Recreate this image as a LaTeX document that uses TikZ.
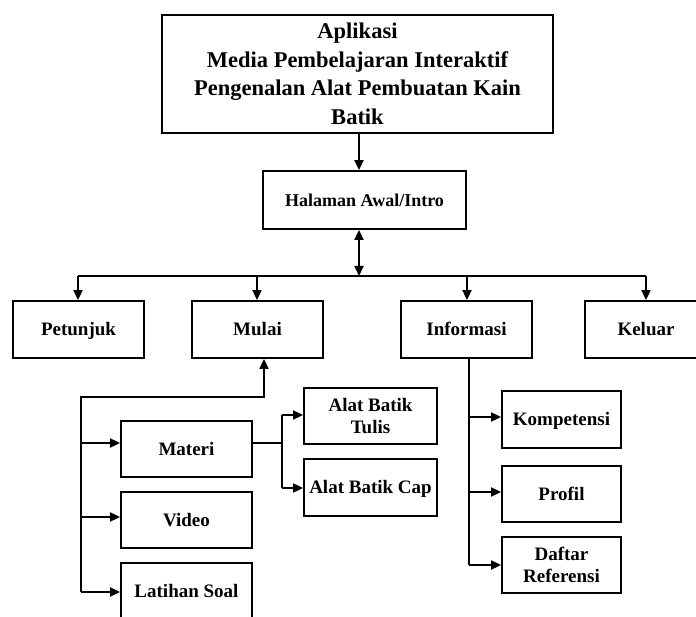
\documentclass[tikz,border=0pt]{standalone}
\usepackage{fontspec}
\setmainfont{Liberation Serif}
\usetikzlibrary{arrows.meta}
\begin{document}
\begin{tikzpicture}[x=1pt,y=-1pt,
  box/.style={draw,line width=1.8pt,inner sep=0pt,align=center,font=\bfseries\fontsize{19}{22}\selectfont,minimum width=131pt,minimum height=57pt},
  one/.style={box,text height=16pt,text depth=3.4pt},
  tip/.tip={Triangle[length=10pt,width=9pt]},
  arr/.style={line width=1.8pt,-tip},
  ln/.style={line width=1.8pt}]
\clip (0,0) rectangle (696,617);
\fill[white] (0,0) rectangle (696,617);
\node[box,minimum width=391pt,minimum height=118pt,font=\bfseries\fontsize{22.5}{28.5}\selectfont] (top) at (357.5,74) {Aplikasi\\Media Pembelajaran Interaktif\\Pengenalan Alat Pembuatan Kain\\Batik};
\node[one,minimum width=203pt,minimum height=58pt,font=\bfseries\fontsize{18}{21}\selectfont] (hal) at (364.5,200) {Halaman Awal/Intro};
\node[one] (pet) at (78.5,329.5) {Petunjuk};
\node[one] (mul) at (257.5,329.5) {Mulai};
\node[one] (inf) at (466.5,329.5) {Informasi};
\node[one,minimum width=122pt] (kel) at (646,329.5) {Keluar};
\node[one,minimum height=56pt] (mat) at (186.5,449) {Materi};
\node[one,minimum height=56pt] (vid) at (186.5,520) {Video};
\node[one,minimum height=56pt] (lat) at (186.5,591) {Latihan Soal};
\node[box,minimum width=133pt,minimum height=56pt] (tul) at (370.5,416) {Alat Batik\\Tulis};
\node[one,minimum width=133pt,minimum height=57pt] (cap) at (370.5,487.5) {Alat Batik Cap};
\node[one,minimum width=119pt] (kom) at (561.5,419.5) {Kompetensi};
\node[one,minimum width=119pt,minimum height=56pt] (pro) at (561.5,494) {Profil};
\node[box,minimum width=119pt,minimum height=56pt] (daf) at (561.5,565) {Daftar\\Referensi};
% coordinates
\coordinate (busm) at (359,276);
\coordinate (busl) at (78,276);
\coordinate (busr) at (646,276);
\coordinate (sp1) at (81,397);
\coordinate (sp2) at (81,592);
\coordinate (mj) at (282,443);
\coordinate (is) at (469,565);
% top to halaman
\draw[arr] (busm |- top.south) -- (busm |- hal.north);
\draw[line width=1.8pt,tip-tip] (busm |- hal.south) -- (busm);
% bus
\draw[ln] (busl) -- (busr);
\draw[arr] (busl) -- (busl |- pet.north);
\draw[arr] (257,276) -- (257,276 |- mul.north);
\draw[arr] (467,276) -- (467,276 |- inf.north);
\draw[arr] (busr) -- (busr |- kel.north);
% mulai spine
\draw[arr] (sp2) -- (sp1) -- (264,397) -- (264,397 |- mul.south);
\draw[arr] (81,443) -- (81,443 -| mat.west);
\draw[arr] (81,517) -- (81,517 -| vid.west);
\draw[arr] (sp2) -- (sp2 -| lat.west);
% materi to alat
\draw[ln] (mat.east |- mj) -- (mj);
\draw[arr] (282,415) -- (282,415 -| tul.west);
\draw[arr] (282,488) -- (282,488 -| cap.west);
\draw[ln] (282,415) -- (282,488);
% informasi spine
\draw[ln] (inf.south -| is) -- (is);
\draw[arr] (469,417) -- (469,417 -| kom.west);
\draw[arr] (469,492) -- (469,492 -| pro.west);
\draw[arr] (is) -- (is -| daf.west);
\end{tikzpicture}
\end{document}
